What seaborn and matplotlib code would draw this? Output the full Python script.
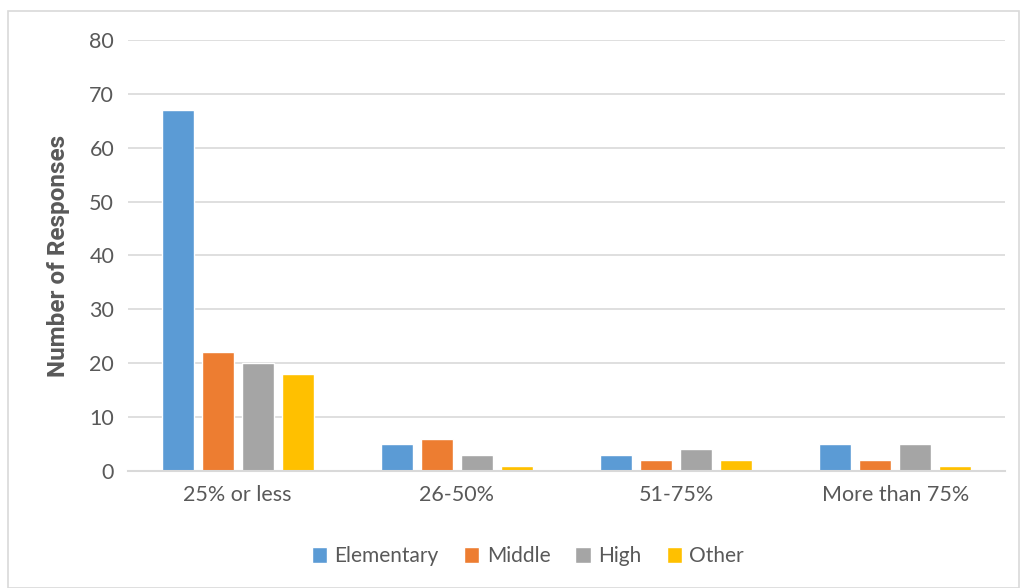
import matplotlib
matplotlib.use("Agg")
import matplotlib.pyplot as plt
import seaborn as sns
import pandas as pd
from matplotlib.patches import Rectangle

# Survey responses by share of students, split by school level
categories = ["25% or less", "26-50%", "51-75%", "More than 75%"]
levels = ["Elementary", "Middle", "High", "Other"]
elementary = [67, 5, 3, 5]
middle = [22, 6, 2, 2]
high = [20, 3, 4, 5]
other = [18, 1, 2, 1]
y_ticks = [0, 10, 20, 30, 40, 50, 60, 70, 80]

colors = ["#5b9bd5", "#ed7d31", "#a5a5a5", "#ffc000"]
text_color = "#595959"

rows = []
for level, vals in zip(levels, [elementary, middle, high, other]):
    for cat, v in zip(categories, vals):
        rows.append({"Category": cat, "Level": level, "Responses": v})
df = pd.DataFrame(rows)

sns.set_theme(style="white")
plt.rcParams["font.family"] = ["Lato", "DejaVu Sans"]

fig = plt.figure(figsize=(10.21, 5.88), dpi=100)
ax = fig.add_axes([0.1254, 0.199, 0.859, 0.733])

sns.barplot(data=df, x="Category", y="Responses", hue="Level",
            order=categories, hue_order=levels, palette=colors,
            saturation=1, width=0.73, gap=0.2, ax=ax, legend=True)

ax.set_ylim(0, 80)
ax.set_yticks(y_ticks)
ax.set_xlim(-0.5, len(categories) - 0.5)
ax.yaxis.grid(True, color="#d9d9d9", linewidth=1.2)
ax.set_axisbelow(True)
for side in ["top", "right", "left"]:
    ax.spines[side].set_visible(False)
ax.spines["bottom"].set_color("#d9d9d9")
ax.spines["bottom"].set_linewidth(1.5)
ax.tick_params(axis="both", length=0, labelsize=15.5, colors=text_color, pad=10)
ax.set_xlabel("")
ax.set_ylabel("Number of Responses", fontsize=17.5, fontweight="bold",
              family=["Roboto", "DejaVu Sans"], color=text_color, labelpad=14)

handles, labels = ax.get_legend_handles_labels()
fig.legend(handles, labels, loc="center", bbox_to_anchor=(0.517, 0.054),
           ncol=4, frameon=False, fontsize=15, handlelength=0.75,
           handleheight=0.75, handletextpad=0.35, columnspacing=1.2,
           labelcolor=text_color)
ax.get_legend().remove()

# Outer chart frame
fig.patches.append(Rectangle((0.008, 0.0), 0.99, 0.981, transform=fig.transFigure,
                             fill=False, edgecolor="#d9d9d9", linewidth=1.2))

fig.savefig("out.png", dpi=100)
